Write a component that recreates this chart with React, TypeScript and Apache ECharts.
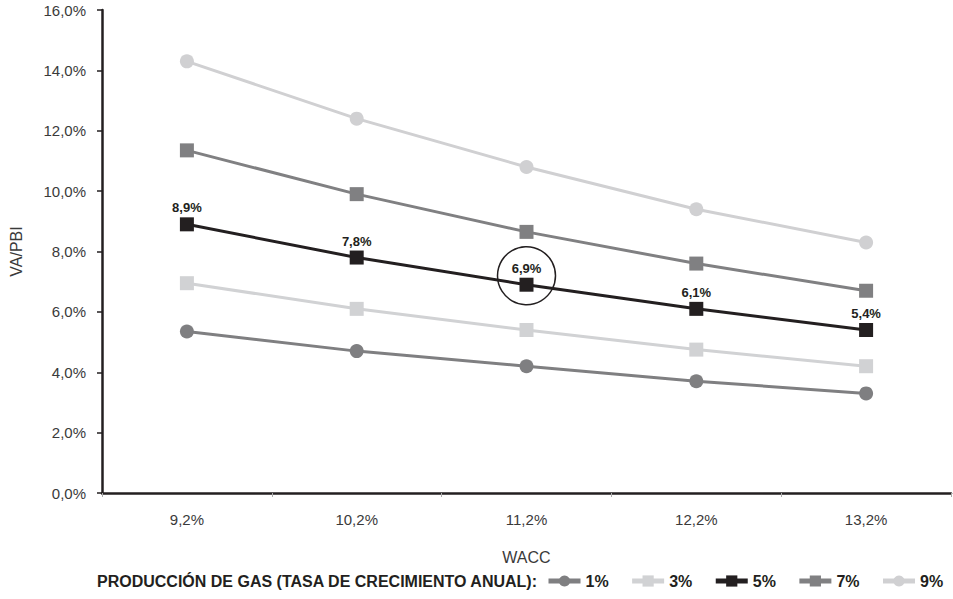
import React, { useEffect, useRef } from "react";
import * as echarts from "echarts";

const categories = ["9,2%", "10,2%", "11,2%", "12,2%", "13,2%"];
const yTicks = [0, 2, 4, 6, 8, 10, 12, 14, 16];
const g1 = [5.35, 4.7, 4.2, 3.7, 3.3];
const g3 = [6.95, 6.1, 5.4, 4.75, 4.2];
const g5 = [8.9, 7.8, 6.9, 6.1, 5.4];
const g7 = [11.35, 9.9, 8.65, 7.6, 6.7];
const g9 = [14.3, 12.4, 10.8, 9.4, 8.3];
const seriesNames = ["1%", "3%", "5%", "7%", "9%"];
const legendTitle = "PRODUCCIÓN DE GAS (TASA DE CRECIMIENTO ANUAL):";

const FONT = "'Liberation Sans', Arial, Helvetica, sans-serif";
const fmt = (v: number) => v.toFixed(1).replace(".", ",") + "%";

export default function App() {
  const ref = useRef<HTMLDivElement>(null);
  useEffect(() => {
    if (!ref.current) return;
    const chart = echarts.init(ref.current, null, { renderer: "svg" });
    const mk = (name: string, data: number[], color: string, symbol: string, z: number, extra: any = {}) => ({
      name,
      type: "line",
      data,
      symbol,
      symbolSize: 14,
      z,
      lineStyle: { color, width: 3 },
      itemStyle: { color },
      ...extra,
    });
    chart.setOption({
      animation: false,
      textStyle: { fontFamily: FONT },
      grid: { left: 99, right: 2, top: 10, bottom: 106 },
      xAxis: {
        type: "category",
        data: categories,
        boundaryGap: true,
        name: "WACC",
        nameLocation: "middle",
        nameGap: 56,
        nameTextStyle: { fontSize: 16, color: "#3a3a3a", fontFamily: FONT },
        axisLine: { lineStyle: { color: "#231f20", width: 2.5 } },
        axisTick: { show: true, length: 4, lineStyle: { color: "#aaa", width: 1 } },
        axisLabel: { fontSize: 15, color: "#3a3a3a", margin: 19, fontFamily: FONT },
      },
      yAxis: {
        type: "value",
        min: 0,
        max: 16,
        interval: 2,
        name: "VA/PBI",
        nameLocation: "middle",
        nameGap: 78,
        nameRotate: 90,
        nameTextStyle: { fontSize: 16, color: "#3a3a3a", fontFamily: FONT },
        axisLine: { show: true, lineStyle: { color: "#231f20", width: 2.5 } },
        axisTick: { show: true, length: 5, lineStyle: { color: "#231f20", width: 1.5 } },
        splitLine: { show: false },
        axisLabel: {
          fontSize: 15,
          color: "#3a3a3a",
          margin: 16,
          padding: [7, 0, 0, 0],
          fontFamily: FONT,
          formatter: (v: number) => (yTicks.includes(v) ? fmt(v) : ""),
        },
      },
      legend: {
        left: 546,
        right: 0,
        top: 573,
        padding: 0,
        itemWidth: 32,
        itemHeight: 14,
        itemGap: 21,
        lineStyle: { width: 5 },
        textStyle: { fontSize: 16, fontWeight: "bold", color: "#231f20", fontFamily: FONT },
        data: seriesNames,
      },
      graphic: [
        {
          type: "text",
          left: 97,
          top: 573,
          style: {
            text: legendTitle,
            fontSize: 16,
            fontWeight: "bold",
            fill: "#231f20",
            fontFamily: FONT,
          },
        },
      ],
      series: [
        mk(seriesNames[0], g1, "#7f7f81", "circle", 2),
        mk(seriesNames[1], g3, "#d1d2d4", "rect", 2),
        mk(seriesNames[2], g5, "#231f20", "rect", 5, {
          label: {
            show: true,
            position: "top",
            distance: 3,
            fontSize: 13,
            fontWeight: "bold",
            color: "#231f20",
            fontFamily: FONT,
            formatter: (p: any) => fmt(p.value),
          },
          markPoint: {
            symbol: "circle",
            symbolSize: 58,
            symbolOffset: [0, -9],
            silent: true,
            itemStyle: { color: "rgba(0,0,0,0)", borderColor: "#231f20", borderWidth: 1.5 },
            label: { show: false },
            data: [{ coord: [2, g5[2]] }],
          },
        }),
        mk(seriesNames[3], g7, "#808082", "rect", 3),
        mk(seriesNames[4], g9, "#d0d0d2", "circle", 3),
      ],
    });
    return () => chart.dispose();
  }, []);
  return (
    <div
      ref={ref}
      style={{ position: "absolute", left: 0, top: 0, width: 953, height: 599, background: "#fff" }}
    />
  );
}
